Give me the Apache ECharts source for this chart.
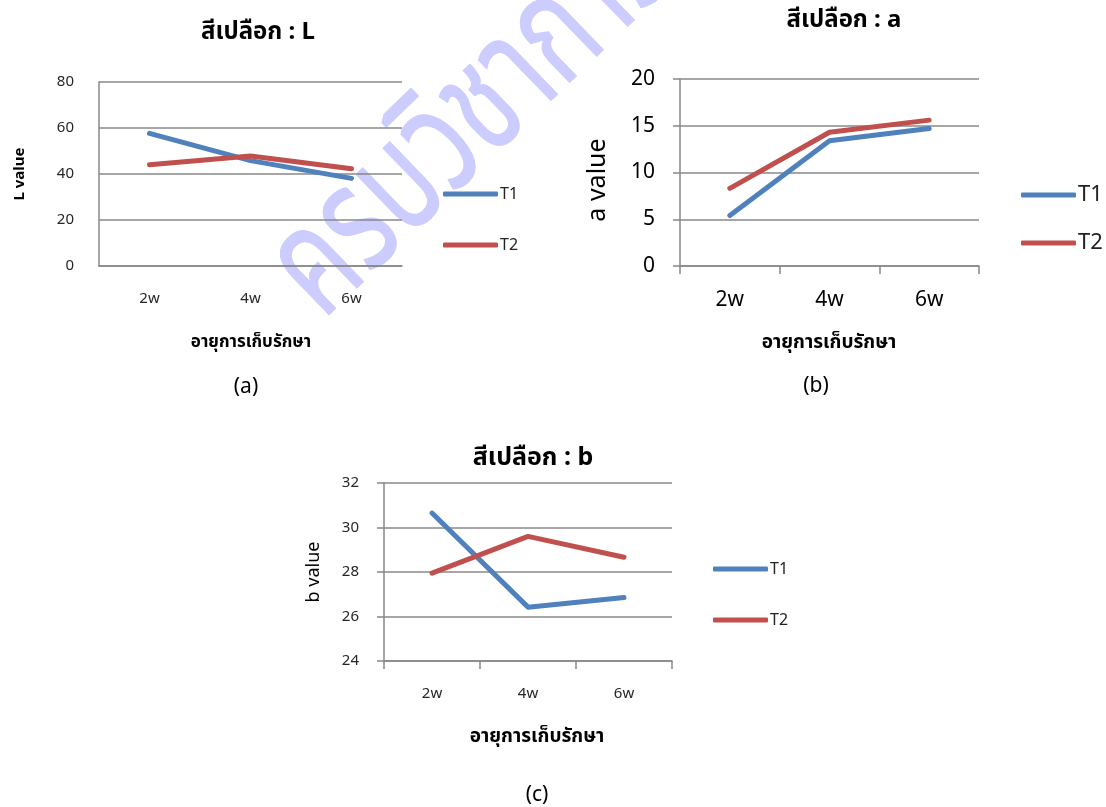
<!DOCTYPE html>
<html>
<head>
<meta charset="utf-8">
<script src="https://cdn.jsdelivr.net/npm/echarts@6/dist/echarts.min.js"></script>
<style>
html,body{margin:0;padding:0;background:#fff;}
#c{width:1106px;height:807px;}
</style>
</head>
<body>
<div id="c"></div>
<script>
const categories = ['2w', '4w', '6w'];
const seriesNames = ['T1', 'T2'];
const L_T1 = [57.7, 45.8, 38.1];
const L_T2 = [44.0, 47.8, 42.3];
const a_T1 = [5.4, 13.4, 14.7];
const a_T2 = [8.3, 14.3, 15.6];
const b_T1 = [30.65, 26.42, 26.85];
const b_T2 = [27.95, 29.6, 28.66];
const L_ticks = [0, 80, 20];
const a_ticks = [0, 20, 5];
const b_ticks = [24, 32, 2];

const titleTexts = ['สีเปลือก : L', 'สีเปลือก : a', 'สีเปลือก : b'];
const yNames = ['L value', 'a value', 'b value'];
const xName = 'อายุการเก็บรักษา';
const captions = ['(a)', '(b)', '(c)'];
const watermark = 'ครบวิชาการ';

const FONT = "'Noto Sans', 'Noto Sans Thai', 'DejaVu Sans', sans-serif";
const C1 = '#4F81BD', C2 = '#C0504D', GRID = '#888888';

const chart = echarts.init(document.getElementById('c'));

const grids = [
  {left: 99, top: 82, width: 303, height: 184},
  {left: 680, top: 79, width: 299, height: 187},
  {left: 384, top: 483, width: 288, height: 178}
];
const fs = [15, 21, 15];
const legendFs = [16, 22, 16];
const showTicks = [false, true, true];
const ticks = [L_ticks, a_ticks, b_ticks];
const data = [[L_T1, L_T2], [a_T1, a_T2], [b_T1, b_T2]];

const xAxis = grids.map((g, i) => ({
  type: 'category', gridIndex: i, data: categories, boundaryGap: true,
  axisLine: {show: true, lineStyle: {color: GRID, width: 1.5}},
  axisTick: {show: showTicks[i], length: 8, lineStyle: {color: GRID, width: 1.5}},
  axisLabel: {fontSize: fs[i], color: i === 1 ? '#000' : '#262626', margin: i === 1 ? 24 : 25, fontFamily: FONT}
}));
const yAxis = grids.map((g, i) => ({
  type: 'value', gridIndex: i, min: ticks[i][0], max: ticks[i][1], interval: ticks[i][2],
  axisLine: {show: true, lineStyle: {color: GRID, width: 1.5}},
  axisTick: {show: showTicks[i], length: 7, lineStyle: {color: GRID, width: 1.5}},
  splitLine: {show: true, lineStyle: {color: GRID, width: 1.5}},
  axisLabel: {fontSize: fs[i], color: i === 1 ? '#000' : '#262626', margin: 25, fontFamily: FONT}
}));
const series = [];
data.forEach((d, i) => {
  d.forEach((vals, k) => {
    series.push({
      type: 'line', name: seriesNames[k], xAxisIndex: i, yAxisIndex: i, data: vals,
      symbol: 'none', color: k === 0 ? C1 : C2,
      lineStyle: {width: 5, cap: 'round', join: 'round', color: k === 0 ? C1 : C2},
      z: 3, animation: false
    });
  });
});

const legendPos = [
  {left: 443, top: [196, 247]},
  {left: 1021, top: [197, 245]},
  {left: 713, top: [571, 622]}
];
const legend = [];
legendPos.forEach((p, i) => {
  seriesNames.forEach((n, k) => {
    const h = legendFs[i] + 4;
    legend.push({
      data: [n], left: p.left, top: p.top[k] - h / 2, itemWidth: 55, itemHeight: 5, itemGap: 0,
      icon: 'roundRect', textStyle: {fontSize: legendFs[i], color: '#222', fontFamily: FONT, padding: [0, 0, 0, -3]},
      padding: 0, selectedMode: false
    });
  });
});

function txt(x, y, text, size, weight, rot) {
  return {type: 'text', x: x, y: y, rotation: rot || 0, z: 10,
    style: {text: text, fontSize: size, fontWeight: weight || 'normal', fill: '#000', fontFamily: FONT,
      align: 'center', verticalAlign: 'middle'}};
}
const graphic = [
  {type: 'text', x: 293, y: 290, rotation: 44 * Math.PI / 180, scaleX: 0.85, scaleY: 1.2, z: -1, silent: true,
    style: {text: watermark, fontSize: 125, fontWeight: 'normal', fill: '#CCCCFF', stroke: '#CCCCFF', lineWidth: 1,
      fontFamily: FONT, align: 'left', verticalAlign: 'middle'}},
  txt(258, 32, titleTexts[0], 24, 'bold'),
  txt(844, 20, titleTexts[1], 24, 'bold'),
  txt(533, 458, titleTexts[2], 25, 'bold'),
  txt(20, 174, yNames[0], 15, 'bold', Math.PI / 2),
  txt(598, 180, yNames[1], 25, 'normal', Math.PI / 2),
  txt(314, 572, yNames[2], 18, 'normal', Math.PI / 2),
  txt(251, 342, xName, 17, 'bold'),
  txt(829, 343, xName, 19, 'bold'),
  txt(537, 737, xName, 19, 'bold'),
  txt(246, 387, captions[0], 21, 'normal'),
  txt(816, 386, captions[1], 21, 'normal'),
  txt(537, 795, captions[2], 21, 'normal')
];

chart.setOption({
  animation: false,
  backgroundColor: '#fff',
  grid: grids,
  xAxis: xAxis,
  yAxis: yAxis,
  legend: legend,
  series: series,
  graphic: graphic
});
</script>
</body>
</html>
